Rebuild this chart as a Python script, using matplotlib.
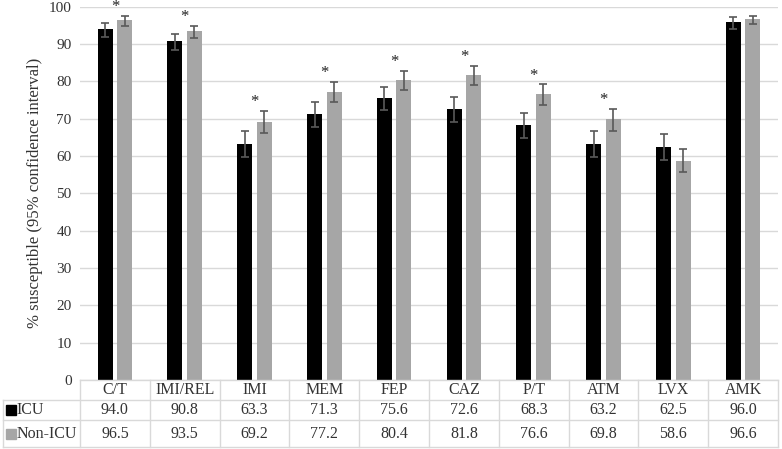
import numpy as np
from matplotlib import pyplot as plt

#############################################
# Datos

drugs = ["C/T", "IMI/REL", "IMI", "MEM", "FEP", "CAZ", "P/T", "ATM", "LVX", "AMK"]
icu = [94.0, 90.8, 63.3, 71.3, 75.6, 72.6, 68.3, 63.2, 62.5, 96.0]
non_icu = [96.5, 93.5, 69.2, 77.2, 80.4, 81.8, 76.6, 69.8, 58.6, 96.6]
# limites del intervalo de confianza
icu_lo = [92.0, 88.4, 59.8, 67.8, 72.3, 69.2, 64.9, 59.8, 59.0, 94.0]
icu_hi = [95.5, 92.7, 66.8, 74.5, 78.6, 75.7, 71.6, 66.8, 66.0, 97.2]
non_lo = [94.8, 91.7, 66.1, 74.4, 77.7, 79.1, 73.7, 66.7, 55.6, 95.3]
non_hi = [97.6, 94.8, 72.1, 79.9, 82.8, 84.2, 79.2, 72.7, 62.0, 97.6]
signif = [True, True, True, True, True, True, True, True, False, False]
yticks = list(range(0, 101, 10))

#############################################

plt.rcParams['font.family'] = ['Liberation Serif', 'DejaVu Serif']

fig = plt.figure(figsize=(7.82, 4.49), dpi=100)
ax = fig.add_axes([80/782, 1-380/449, 698/782, 373.3/449])

n = len(drugs)
x = np.arange(n) + 0.5
w = 0.215
off = 0.14
icu = np.array(icu); non_icu = np.array(non_icu)
err_icu = [icu - np.array(icu_lo), np.array(icu_hi) - icu]
err_non = [non_icu - np.array(non_lo), np.array(non_hi) - non_icu]

ax.bar(x - off, icu, w, color="black", zorder=2)
ax.bar(x + off, non_icu, w, color="#a6a6a6", zorder=2)
ek = dict(ecolor="#595959", elinewidth=1.2, capsize=2.8, capthick=1.2, fmt="none", zorder=3)
ax.errorbar(x - off, icu, yerr=err_icu, **ek)
ax.errorbar(x + off, non_icu, yerr=err_non, **ek)

for i in range(n):
    if signif[i]:
        ax.text(x[i], non_hi[i] + 0.2, "*", ha="center", va="bottom", fontsize=12, color="#222222")

ax.set_xlim(0, n)
ax.set_ylim(0, 100)
ax.set_yticks(yticks)
ax.tick_params(axis="y", length=0, labelsize=11, pad=6, labelcolor="#333333")
ax.set_xticks([])
ax.grid(axis="y", color="#d9d9d9", lw=1, zorder=0)
for s in ax.spines.values():
    s.set_visible(False)
ax.set_ylabel("% susceptible (95% confidence interval)", fontsize=12, color="#333333", labelpad=4)

#############################################
# Tabla de datos (coordenadas de ejes)

lc = "#d9d9d9"
x0 = (3 - 80) / 698
rows_y = [0, -20/373.3, -40/373.3, -67/373.3]
kw = dict(transform=ax.transAxes, clip_on=False, color=lc, lw=1)
ax.plot([0, 1], [rows_y[0]]*2, **kw)
for yy in rows_y[1:]:
    ax.plot([x0, 1], [yy]*2, **kw)
ax.plot([x0, x0], [rows_y[1], rows_y[3]], **kw)
for i in range(n + 1):
    ax.plot([i/n, i/n], [rows_y[0], rows_y[3]], **kw)

tk = dict(transform=ax.transAxes, ha="center", va="center", fontsize=11.5, color="#333333")
for i in range(n):
    xc = (i + 0.5) / n
    ax.text(xc, (rows_y[0] + rows_y[1]) / 2, drugs[i], **tk)
    ax.text(xc, (rows_y[1] + rows_y[2]) / 2, f"{icu[i]:.1f}", **tk)
    ax.text(xc, (rows_y[2] + rows_y[3]) / 2, f"{non_icu[i]:.1f}", **tk)

labels = ["ICU", "Non-ICU"]
colors = ["black", "#a6a6a6"]
for j in range(2):
    yc = (rows_y[j+1] + rows_y[j+2]) / 2
    ax.plot([x0 + 0.011], [yc], marker="s", ms=6.5, color=colors[j], transform=ax.transAxes, clip_on=False)
    ax.text(x0 + 0.019, yc, labels[j], transform=ax.transAxes, ha="left", va="center", fontsize=11.5, color="#333333")

fig.savefig("out.png", dpi=100)
